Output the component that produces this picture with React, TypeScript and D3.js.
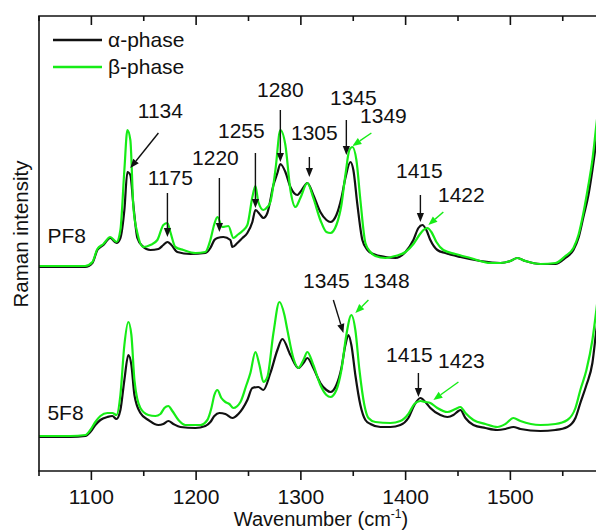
import React from 'react';
import * as d3 from 'd3';

type Pt = [number, number];

// Raman spectra: [wavenumber (cm-1), intensity (a.u.)]
const pf8Alpha: Pt[] = [
  [1050, 204], [1070, 204], [1094, 204], [1101, 208], [1105.7, 221], [1111.5, 226], [1118, 233], [1124, 228],
  [1127.7, 233], [1131.5, 261], [1134.4, 299], [1137.2, 296], [1140.1, 266], [1143.9, 233], [1148.7, 225],
  [1156.3, 221], [1164, 222], [1168.7, 226], [1172.6, 229], [1176.4, 226], [1182, 219], [1194.5, 217],
  [1208.8, 218], [1213.6, 223], [1217.4, 231], [1220.3, 233], [1226, 234], [1232.7, 231], [1234.6, 224],
  [1239.4, 228], [1244.2, 233], [1248.9, 238], [1253.7, 249], [1256.6, 261], [1261.3, 256], [1264.2, 253],
  [1268, 258], [1273.8, 286], [1277.6, 298], [1280.4, 307], [1285.2, 299], [1290, 284], [1296.7, 276],
  [1299.5, 279], [1306.2, 288], [1311.9, 276], [1318.6, 259], [1324.4, 251], [1328.2, 249], [1333.9, 256],
  [1338.7, 273], [1342.5, 293], [1347.3, 309], [1350.1, 301], [1354, 266], [1358.7, 231], [1363.5, 221],
  [1369.2, 217], [1380.7, 214], [1390.2, 213], [1399.8, 219], [1407.4, 231], [1412.2, 243], [1416, 246],
  [1419.8, 241], [1423.6, 231], [1430.3, 221], [1437.9, 218], [1452.3, 214], [1471.4, 210], [1490.5, 208],
  [1500, 210], [1506.7, 213], [1514.3, 210], [1528.7, 207], [1543, 207], [1552.5, 213], [1560.2, 221],
  [1565, 233], [1569.7, 254], [1574.5, 276], [1578.3, 301], [1582.1, 331], [1586, 371], [1591.7, 411], [1600, 441],
];

const pf8Beta: Pt[] = [
  [1050, 205], [1070, 205], [1094, 205], [1101, 209], [1105.7, 222], [1111.5, 227], [1118, 234], [1124, 229],
  [1127.7, 241], [1131.5, 301], [1134.4, 341], [1137.2, 331], [1140.1, 264], [1143.9, 238], [1149.6, 224],
  [1156.3, 226], [1163, 231], [1168.7, 246], [1172.6, 248], [1175.4, 239], [1180.2, 224], [1187.8, 221],
  [1199.3, 218], [1208.8, 219], [1213.6, 231], [1217.4, 247], [1220.3, 254], [1225.1, 244], [1230.8, 245],
  [1235.6, 233], [1239.4, 236], [1244.2, 240], [1248.9, 246], [1253.7, 274], [1256.6, 285], [1259.4, 269],
  [1264.2, 261], [1268, 264], [1270.9, 269], [1275.7, 301], [1280.4, 341], [1285.2, 326], [1290, 281],
  [1294.8, 264], [1299.5, 273], [1306.2, 288], [1311.9, 273], [1318.6, 251], [1324.4, 239], [1328.2, 238],
  [1333.9, 246], [1338.7, 266], [1342.5, 296], [1346.3, 321], [1349.2, 324], [1353, 311], [1356.8, 271],
  [1361.6, 228], [1366.4, 219], [1371.1, 215], [1380.7, 213], [1390.2, 215], [1399.8, 219], [1407.4, 227],
  [1413.1, 236], [1417, 241], [1420.8, 243], [1424.6, 239], [1429.4, 229], [1436, 221], [1447.5, 217],
  [1461.8, 213], [1480.9, 208], [1490.5, 208], [1500, 210], [1506.7, 213], [1514.3, 210], [1528.7, 207],
  [1543, 208], [1552.5, 215], [1560.2, 223], [1565, 236], [1569.7, 258], [1574.5, 286], [1578.3, 311],
  [1582.1, 346], [1586, 381], [1591.7, 421], [1600, 451],
];

const f8Alpha: Pt[] = [
  [1050, 34], [1080, 34], [1094.3, 35], [1099, 39], [1103.8, 46], [1108.6, 51], [1115.3, 54], [1120, 55],
  [1123.9, 52], [1127.7, 61], [1131.5, 91], [1135.3, 116], [1138.2, 106], [1141.1, 76], [1146.8, 58],
  [1154.4, 51], [1164, 46], [1168.7, 47], [1173.5, 50], [1178.3, 47], [1185, 44], [1199.3, 43], [1208.8, 45],
  [1213.6, 49], [1217.4, 55], [1222.2, 58], [1227.9, 57], [1234.6, 53], [1240.3, 57], [1248.9, 71],
  [1253.7, 83], [1259.4, 84], [1264.2, 81], [1270.9, 98], [1277.6, 121], [1282.3, 132], [1290, 116],
  [1297.6, 103], [1302.4, 108], [1306.2, 113], [1311.9, 103], [1318.6, 88], [1324.4, 81], [1328.2, 79],
  [1333.9, 86], [1338.7, 103], [1342.5, 126], [1345.4, 136], [1348.2, 126], [1352, 96], [1356.8, 66],
  [1361.6, 51], [1366.4, 47], [1375.9, 44], [1385.5, 44], [1395, 46], [1402.6, 53], [1408.4, 66],
  [1414.1, 73], [1418.9, 69], [1423.6, 63], [1433.2, 56], [1439.9, 54], [1445.6, 56], [1450.4, 60],
  [1452.3, 61], [1457.1, 53], [1464.7, 46], [1476.2, 43], [1487.6, 41], [1495.2, 42], [1502.9, 44],
  [1509.6, 42], [1528.7, 40], [1543, 41], [1554.4, 44], [1562.1, 53], [1566.8, 68], [1572.6, 86],
  [1578.3, 108], [1582.1, 141], [1586, 171], [1591.7, 211], [1600, 251],
];

const f8Beta: Pt[] = [
  [1050, 35], [1080, 35], [1094.3, 36], [1099, 41], [1103.8, 49], [1108.6, 55], [1115.3, 58], [1120, 58],
  [1123.9, 56], [1127.7, 76], [1131.5, 126], [1135.3, 149], [1138.2, 136], [1141.1, 91], [1146.8, 63],
  [1154.4, 56], [1161.1, 55], [1165.9, 57], [1169.7, 63], [1173.5, 65], [1177.3, 60], [1183.1, 51],
  [1189.7, 46], [1204.1, 46], [1210.7, 51], [1214.6, 63], [1217.4, 76], [1220.3, 81], [1224.1, 73],
  [1227.9, 69], [1231.7, 67], [1235.6, 63], [1242.3, 69], [1248, 86], [1251.8, 98], [1256.6, 119],
  [1260.4, 106], [1264.2, 89], [1268, 94], [1273.8, 138], [1279.5, 169], [1284.3, 156], [1287.1, 141],
  [1292.8, 113], [1297.6, 103], [1302.4, 111], [1306.2, 119], [1311.9, 106], [1318.6, 86], [1324.4, 76],
  [1328.2, 74], [1333.9, 81], [1338.7, 101], [1343.4, 136], [1348.2, 156], [1352, 141], [1355.9, 101],
  [1360.6, 66], [1364.5, 53], [1371.1, 49], [1385.5, 48], [1395, 50], [1402.6, 57], [1408.4, 67],
  [1414.1, 70], [1418.9, 69], [1423.6, 68], [1430.3, 63], [1439.9, 59], [1447.5, 62], [1452.3, 64],
  [1457.1, 58], [1464.7, 51], [1476.2, 47], [1487.6, 44], [1495.2, 47], [1502.9, 53], [1509.6, 50],
  [1528.7, 46], [1543, 47], [1554.4, 51], [1562.1, 63], [1566.8, 81], [1572.6, 101], [1578.3, 131],
  [1582.1, 161], [1586, 196], [1591.7, 241], [1600, 281],
];

const majorTicks = [1100, 1200, 1300, 1400, 1500, 1600];
const minorTicks = [1050, 1150, 1250, 1350, 1450, 1550];
const tickLabels = [1100, 1200, 1300, 1400, 1500];

const legendLabels = ['\u03b1-phase', '\u03b2-phase'];

// peak labels: text, wavenumber (center), intensity (baseline)
const peakLabels: { t: string; wn: number; i: number }[] = [
  { t: '1134', wn: 1165.9, i: 353 },
  { t: '1175', wn: 1175.4, i: 286 },
  { t: '1220', wn: 1218.4, i: 306 },
  { t: '1255', wn: 1243.2, i: 333 },
  { t: '1280', wn: 1280.4, i: 374 },
  { t: '1305', wn: 1312.9, i: 331 },
  { t: '1345', wn: 1350.1, i: 366 },
  { t: '1349', wn: 1378.8, i: 348 },
  { t: '1415', wn: 1413.1, i: 293 },
  { t: '1422', wn: 1453.2, i: 269 },
  { t: '1345', wn: 1324.4, i: 183 },
  { t: '1348', wn: 1381.6, i: 183 },
  { t: '1415', wn: 1403.6, i: 109 },
  { t: '1423', wn: 1453.2, i: 103 },
];

// arrows: [wn0, i0, wn1, i1, phase] (0 = alpha, 1 = beta)
const peakArrows: [number, number, number, number, number][] = [
  [1164, 338, 1137.2, 303, 0],
  [1172.6, 278, 1172.6, 234, 0],
  [1222.2, 293, 1222.2, 239, 0],
  [1256.6, 318, 1256.6, 263, 0],
  [1280.4, 361, 1280.4, 309, 0],
  [1308.1, 314, 1308.1, 294, 0],
  [1343.4, 351, 1343.4, 316, 0],
  [1367.3, 338, 1349.2, 325, 1],
  [1414.1, 276, 1414.1, 249, 0],
  [1436, 259, 1421.7, 246, 1],
  [1331, 171, 1340.6, 138, 0],
  [1364.5, 171, 1352, 158, 1],
  [1412.2, 98, 1412.2, 74, 0],
  [1450.4, 89, 1426.5, 71, 1],
];

const sampleLabels: { t: string; wn: number; i: number }[] = [
  { t: 'PF8', wn: 1058, i: 228 },
  { t: '5F8', wn: 1058, i: 51 },
];

const W = 596;
const H = 531;
const LEFT = 39;
const TOP = 16;
const BOTTOM = 471;
const BLACK = '#111111';
const GREEN = '#16ec16';
const FONT = '"Liberation Sans", Arial, sans-serif';
const FS = 21;

export default function App() {
  const x = d3.scaleLinear().domain([1050, 1600]).range([LEFT, LEFT + 550 * 1.0475]);
  const y = d3.scaleLinear().domain([0, 455]).range([BOTTOM, TOP]);
  const line = d3
    .line<Pt>()
    .x((d) => x(d[0]))
    .y((d) => y(d[1]))
    .curve(d3.curveMonotoneX);
  const right = x(1600);
  const colors = [BLACK, GREEN];

  const arrowEls = peakArrows.map((a, k) => {
    const x0 = x(a[0]);
    const y0 = y(a[1]);
    const x1 = x(a[2]);
    const y1 = y(a[3]);
    const ang = Math.atan2(y1 - y0, x1 - x0);
    const L = 9;
    const w = 3.6;
    const bx = x1 - L * Math.cos(ang);
    const by = y1 - L * Math.sin(ang);
    const px = -Math.sin(ang) * w;
    const py = Math.cos(ang) * w;
    const c = colors[a[4]];
    return (
      <g key={'a' + k}>
        <line x1={x0} y1={y0} x2={bx} y2={by} stroke={c} strokeWidth={1.4} />
        <path d={`M${x1},${y1}L${bx + px},${by + py}L${bx - px},${by - py}Z`} fill={c} />
      </g>
    );
  });

  return (
    <svg
      width={W}
      height={H}
      style={{ position: 'absolute', left: 0, top: 0, background: '#fff' }}
      fontFamily={FONT}
    >
      <defs>
        <clipPath id="plotClip">
          <rect x={LEFT} y={TOP} width={right - LEFT} height={BOTTOM - TOP} />
        </clipPath>
      </defs>
      <rect x={0} y={0} width={W} height={H} fill="#fff" />

      <g clipPath="url(#plotClip)" fill="none" strokeLinejoin="round">
        <path d={line(pf8Alpha) || ''} stroke={BLACK} strokeWidth={2.2} />
        <path d={line(f8Alpha) || ''} stroke={BLACK} strokeWidth={2.2} />
        <path d={line(pf8Beta) || ''} stroke={GREEN} strokeWidth={2.2} />
        <path d={line(f8Beta) || ''} stroke={GREEN} strokeWidth={2.2} />
      </g>

      {/* frame */}
      <g stroke={BLACK} strokeWidth={1.6} fill="none">
        <line x1={LEFT} y1={TOP} x2={LEFT} y2={BOTTOM} />
        <line x1={LEFT - 0.8} y1={TOP} x2={right} y2={TOP} />
        <line x1={LEFT - 0.8} y1={BOTTOM} x2={right} y2={BOTTOM} />
        <line x1={right} y1={TOP} x2={right} y2={BOTTOM} />
      </g>

      {/* ticks */}
      <g stroke={BLACK} strokeWidth={1.6}>
        {majorTicks.map((t) => (
          <g key={'M' + t}>
            <line x1={x(t)} x2={x(t)} y1={BOTTOM} y2={BOTTOM + 9} />
            <line x1={x(t)} x2={x(t)} y1={TOP} y2={TOP + 9} />
          </g>
        ))}
        {minorTicks.map((t) => (
          <g key={'m' + t}>
            <line x1={x(t)} x2={x(t)} y1={BOTTOM} y2={BOTTOM + 5} />
            <line x1={x(t)} x2={x(t)} y1={TOP} y2={TOP + 5} />
          </g>
        ))}
      </g>
      <g fontSize={FS} fill={BLACK} textAnchor="middle">
        {tickLabels.map((t) => (
          <text key={'l' + t} x={x(t)} y={504}>
            {t}
          </text>
        ))}
      </g>

      {/* axis titles */}
      <text x={321} y={526} fontSize={20} textAnchor="middle" fill={BLACK}>
        Wavenumber (cm
        <tspan fontSize={12} dy={-8}>-1</tspan>
        <tspan dy={8}>)</tspan>
      </text>
      <text
        transform={`translate(28, ${234}) rotate(-90)`}
        fontSize={20.5}
        textAnchor="middle"
        fill={BLACK}
      >
        Raman intensity
      </text>

      {/* legend */}
      {legendLabels.map((lab, k) => (
        <g key={lab}>
          <line x1={53} x2={102} y1={40 + k * 27} y2={40 + k * 27} stroke={colors[k]} strokeWidth={2.4} />
          <text x={108} y={47 + k * 27} fontSize={FS} fill={BLACK}>
            {lab}
          </text>
        </g>
      ))}

      {/* sample labels */}
      {sampleLabels.map((s) => (
        <text key={s.t} x={x(s.wn)} y={y(s.i)} fontSize={FS} fill={BLACK}>
          {s.t}
        </text>
      ))}

      {/* peak labels */}
      <g fontSize={FS} fill={BLACK} textAnchor="middle">
        {peakLabels.map((p, k) => (
          <text key={'p' + k} x={x(p.wn)} y={y(p.i)}>
            {p.t}
          </text>
        ))}
      </g>
      {arrowEls}
    </svg>
  );
}
